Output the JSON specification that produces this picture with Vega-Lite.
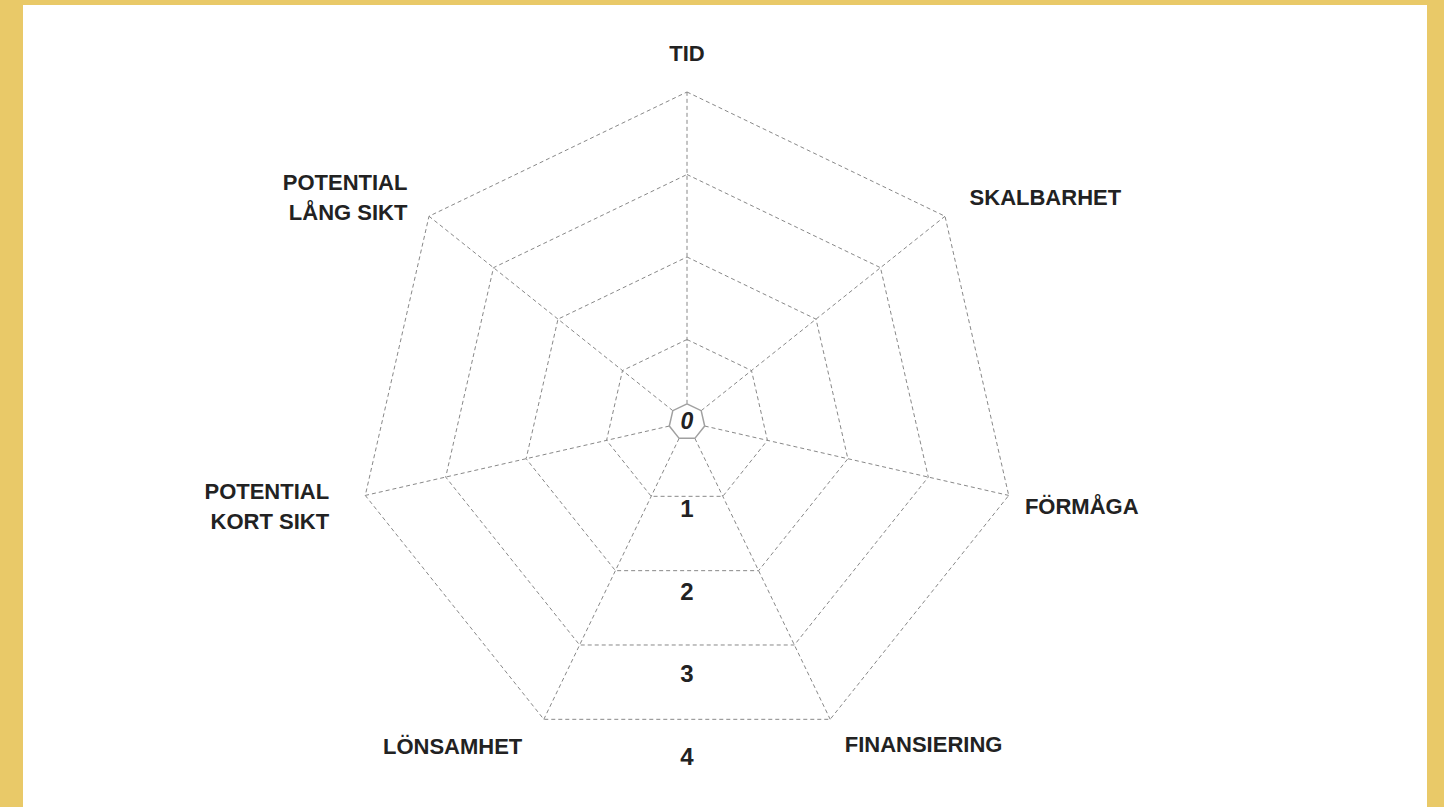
{
  "$schema": "https://vega.github.io/schema/vega-lite/v6.json",
  "width": 1404,
  "height": 802,
  "autosize": {"type": "none"},
  "padding": {"left": 23, "top": 5, "right": 17, "bottom": 0},
  "background": "#E9C968",
  "config": {
    "view": {"fill": "#FFFFFF", "stroke": null},
    "text": {"font": "Liberation Sans", "lineBreak": "\n"}
  },
  "datasets": {
    "axes": [
      {"axis": "TID", "k": 0},
      {"axis": "SKALBARHET", "k": 1},
      {"axis": "FÖRMÅGA", "k": 2},
      {"axis": "FINANSIERING", "k": 3},
      {"axis": "LÖNSAMHET", "k": 4},
      {"axis": "POTENTIAL\nKORT SIKT", "k": 5},
      {"axis": "POTENTIAL\nLÅNG SIKT", "k": 6}
    ],
    "rings": [
      {"level": 1, "k": [0, 1, 2, 3, 4, 5, 6, 7]},
      {"level": 2, "k": [0, 1, 2, 3, 4, 5, 6, 7]},
      {"level": 3, "k": [0, 1, 2, 3, 4, 5, 6, 7]},
      {"level": 4, "k": [0, 1, 2, 3, 4, 5, 6, 7]}
    ],
    "hub": [
      {"level": 0.22, "k": [0, 1, 2, 3, 4, 5, 6, 7]}
    ],
    "levels": [
      {"level": 1, "label": "1"},
      {"level": 2, "label": "2"},
      {"level": 3, "label": "3"},
      {"level": 4, "label": "4"}
    ],
    "zero": [
      {"level": 0, "label": "0"}
    ]
  },
  "encoding": {
    "x": {"field": "x", "type": "quantitative", "scale": {"domain": [-8.0485, 8.9697], "nice": false, "zero": false}, "axis": null},
    "y": {"field": "y", "type": "quantitative", "scale": {"domain": [-4.6667, 5.0545], "nice": false, "zero": false}, "axis": null}
  },
  "layer": [
    {
      "data": {"name": "rings"},
      "transform": [
        {"flatten": ["k"]},
        {"calculate": "datum.k * 2 * PI / 7", "as": "a"},
        {"calculate": "datum.level * sin(datum.a)", "as": "x"},
        {"calculate": "datum.level * cos(datum.a)", "as": "y"}
      ],
      "mark": {"type": "line", "color": "#888888", "strokeWidth": 1, "strokeDash": [4, 3]},
      "encoding": {
        "detail": {"field": "level", "type": "nominal"},
        "order": {"field": "k", "type": "quantitative"}
      }
    },
    {
      "data": {"name": "axes"},
      "transform": [
        {"calculate": "datum.k * 2 * PI / 7", "as": "a"},
        {"calculate": "0.22 * sin(datum.a)", "as": "x"},
        {"calculate": "0.22 * cos(datum.a)", "as": "y"},
        {"calculate": "4 * sin(datum.a)", "as": "x2"},
        {"calculate": "4 * cos(datum.a)", "as": "y2"}
      ],
      "mark": {"type": "rule", "color": "#888888", "strokeWidth": 1, "strokeDash": [4, 3]},
      "encoding": {
        "x2": {"field": "x2"},
        "y2": {"field": "y2"}
      }
    },
    {
      "data": {"name": "hub"},
      "transform": [
        {"flatten": ["k"]},
        {"calculate": "datum.k * 2 * PI / 7", "as": "a"},
        {"calculate": "datum.level * sin(datum.a)", "as": "x"},
        {"calculate": "datum.level * cos(datum.a)", "as": "y"}
      ],
      "mark": {"type": "line", "color": "#A0A0A0", "strokeWidth": 1.5},
      "encoding": {
        "order": {"field": "k", "type": "quantitative"}
      }
    },
    {
      "data": {"name": "axes"},
      "transform": [
        {"filter": "datum.k == 0"},
        {"calculate": "datum.k * 2 * PI / 7", "as": "a"},
        {"calculate": "4.35 * sin(datum.a)", "as": "x"},
        {"calculate": "4.35 * cos(datum.a)", "as": "y"}
      ],
      "mark": {"type": "text", "align": "center", "baseline": "middle", "dy": -9, "fontSize": 22, "fontWeight": "bold", "color": "#222222"},
      "encoding": {"text": {"field": "axis"}}
    },
    {
      "data": {"name": "axes"},
      "transform": [
        {"filter": "datum.k == 1 || datum.k == 3"},
        {"calculate": "datum.k * 2 * PI / 7", "as": "a"},
        {"calculate": "4.35 * sin(datum.a)", "as": "x"},
        {"calculate": "4.35 * cos(datum.a)", "as": "y"}
      ],
      "mark": {"type": "text", "align": "left", "baseline": "middle", "dx": 2, "fontSize": 22, "fontWeight": "bold", "color": "#222222"},
      "encoding": {"text": {"field": "axis"}}
    },
    {
      "data": {"name": "axes"},
      "transform": [
        {"filter": "datum.k == 2"},
        {"calculate": "datum.k * 2 * PI / 7", "as": "a"},
        {"calculate": "4.35 * sin(datum.a)", "as": "x"},
        {"calculate": "4.35 * cos(datum.a)", "as": "y"}
      ],
      "mark": {"type": "text", "align": "left", "baseline": "middle", "dx": -12, "dy": 5, "fontSize": 22, "fontWeight": "bold", "color": "#222222"},
      "encoding": {"text": {"field": "axis"}}
    },
    {
      "data": {"name": "axes"},
      "transform": [
        {"filter": "datum.k == 4"},
        {"calculate": "datum.k * 2 * PI / 7", "as": "a"},
        {"calculate": "4.35 * sin(datum.a)", "as": "x"},
        {"calculate": "4.35 * cos(datum.a)", "as": "y"}
      ],
      "mark": {"type": "text", "align": "right", "baseline": "middle", "dx": -9, "dy": 2, "fontSize": 22, "fontWeight": "bold", "color": "#222222"},
      "encoding": {"text": {"field": "axis"}}
    },
    {
      "data": {"name": "axes"},
      "transform": [
        {"filter": "datum.k == 5"},
        {"calculate": "datum.k * 2 * PI / 7", "as": "a"},
        {"calculate": "4.35 * sin(datum.a)", "as": "x"},
        {"calculate": "4.35 * cos(datum.a)", "as": "y"}
      ],
      "mark": {"type": "text", "align": "right", "baseline": "middle", "dx": -8, "dy": -10, "fontSize": 22, "fontWeight": "bold", "color": "#222222", "lineHeight": 30},
      "encoding": {"text": {"field": "axis"}}
    },
    {
      "data": {"name": "axes"},
      "transform": [
        {"filter": "datum.k == 6"},
        {"calculate": "datum.k * 2 * PI / 7", "as": "a"},
        {"calculate": "4.35 * sin(datum.a)", "as": "x"},
        {"calculate": "4.35 * cos(datum.a)", "as": "y"}
      ],
      "mark": {"type": "text", "align": "right", "baseline": "middle", "dx": 1, "dy": -15, "fontSize": 22, "fontWeight": "bold", "color": "#222222", "lineHeight": 30},
      "encoding": {"text": {"field": "axis"}}
    },
    {
      "data": {"name": "levels"},
      "transform": [
        {"calculate": "0", "as": "x"},
        {"calculate": "-datum.level", "as": "y"}
      ],
      "mark": {"type": "text", "align": "center", "baseline": "middle", "dy": 6, "fontSize": 24, "fontWeight": "bold", "color": "#222222"},
      "encoding": {"text": {"field": "label"}}
    },
    {
      "data": {"name": "zero"},
      "transform": [
        {"calculate": "0", "as": "x"},
        {"calculate": "datum.level", "as": "y"}
      ],
      "mark": {"type": "text", "align": "center", "baseline": "middle", "fontSize": 23, "fontStyle": "italic", "fontWeight": "bold", "color": "#222222"},
      "encoding": {"text": {"field": "label"}}
    }
  ]
}
